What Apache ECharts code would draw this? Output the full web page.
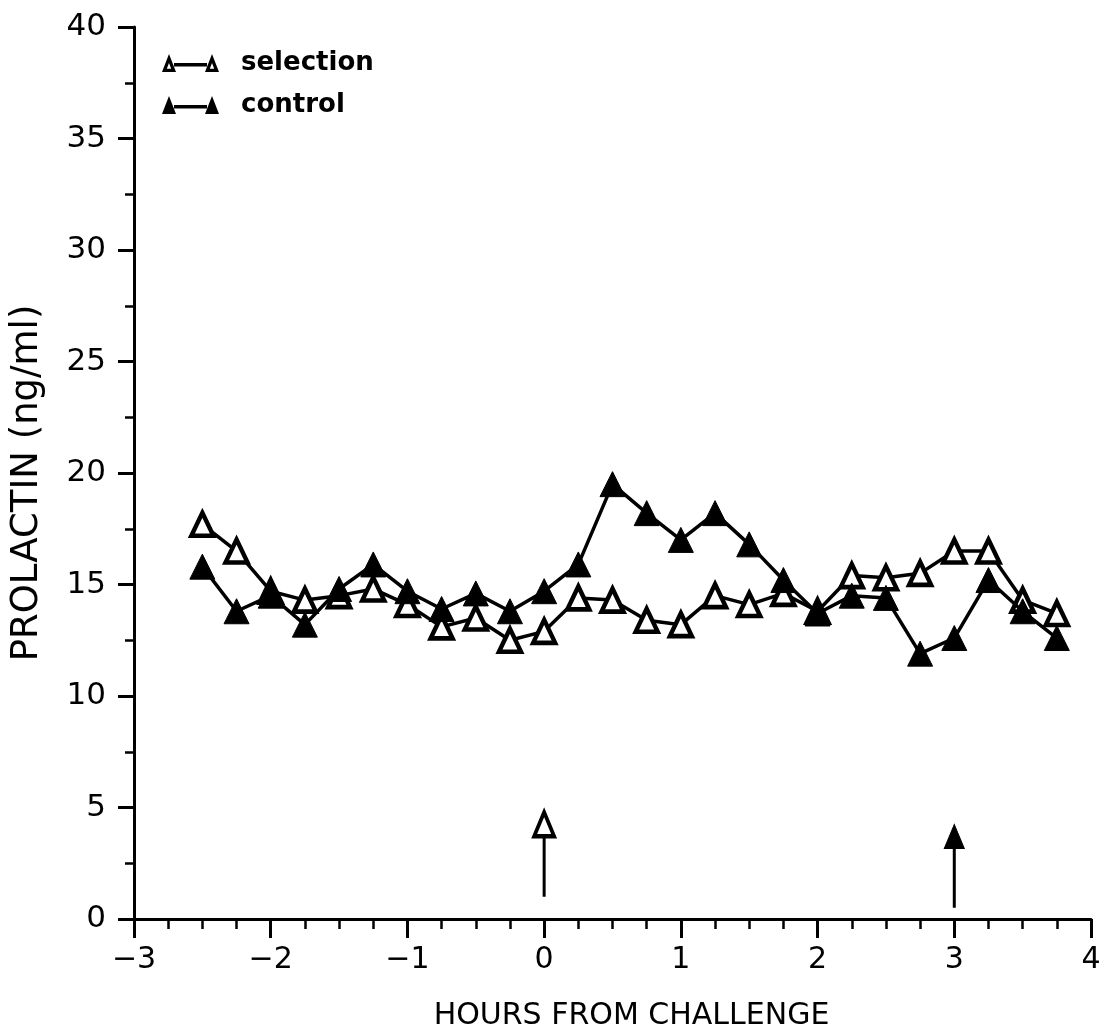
<!DOCTYPE html>
<html>
<head>
<meta charset="utf-8">
<script src="https://cdn.jsdelivr.net/npm/echarts@6/dist/echarts.min.js"></script>
<style>
  html, body { margin: 0; padding: 0; background: #ffffff; }
  #chart { width: 1112px; height: 1035px; }
</style>
</head>
<body>
<div id="chart"></div>
<script>
// Sampling times, hours relative to the challenge
const hours = [-2.5, -2.25, -2.0, -1.75, -1.5, -1.25, -1.0, -0.75, -0.5, -0.25,
               0.0, 0.25, 0.5, 0.75, 1.0, 1.25, 1.5, 1.75, 2.0, 2.25,
               2.5, 2.75, 3.0, 3.25, 3.5, 3.75];

// Prolactin (ng/ml), selection group (open triangles)
const selection = [17.7, 16.5, 14.7, 14.3, 14.5, 14.8, 14.1, 13.1, 13.5, 12.5,
                   12.9, 14.4, 14.3, 13.4, 13.2, 14.5, 14.1, 14.6, 13.8, 15.4,
                   15.3, 15.5, 16.5, 16.5, 14.3, 13.7];

// Prolactin (ng/ml), control group (filled triangles)
const control = [15.8, 13.8, 14.5, 13.2, 14.8, 15.9, 14.7, 13.9, 14.6, 13.8,
                 14.7, 15.9, 19.5, 18.2, 17.0, 18.2, 16.8, 15.2, 13.7, 14.5,
                 14.4, 11.9, 12.6, 15.2, 13.8, 12.6];

// Challenge markers: [hour, arrow foot, arrow head]
const selectionChallenge = [0, 1.0, 4.25];
const controlChallenge = [3, 0.5, 3.7];

// Axis ticks
const xTicks = [-3, -2, -1, 0, 1, 2, 3, 4];
const yTicks = [0, 5, 10, 15, 20, 25, 30, 35, 40];

const seriesNames = ['selection', 'control'];
const xTitle = 'HOURS FROM CHALLENGE';
const yTitle = 'PROLACTIN (ng/ml)';

const INK = '#000000';
const FONT = '"DejaVu Sans", "Liberation Sans", sans-serif';

// Legend glyphs: two triangles joined by a bar (hollow / solid)
const hollowIcon = 'path://' +
  'M0 18 L7 0 L14 18 Z M4.8 14.8 L9.2 14.8 L7 9 Z ' +
  'M12 9 L45 9 L45 12.5 L12 12.5 Z ' +
  'M43 18 L50 0 L57 18 Z M47.8 14.8 L52.2 14.8 L50 9 Z';
const solidIcon = 'path://' +
  'M0 18 L7 0 L14 18 Z ' +
  'M12 9 L45 9 L45 12.5 L12 12.5 Z ' +
  'M43 18 L50 0 L57 18 Z';

function pairs(xs, ys) { return xs.map((x, i) => [x, ys[i]]); }

function arrow(spec, hollow) {
  return {
    type: 'line',
    silent: true,
    z: 3,
    data: [
      { value: [spec[0], spec[1]], symbol: 'none' },
      { value: [spec[0], spec[2]] }
    ],
    symbol: 'triangle',
    symbolSize: [20, 24],
    lineStyle: { color: INK, width: 3 },
    itemStyle: hollow
      ? { color: '#ffffff', borderColor: INK, borderWidth: 4 }
      : { color: INK, borderColor: INK, borderWidth: 1 },
    emphasis: { disabled: true }
  };
}

const chart = echarts.init(document.getElementById('chart'), null, { renderer: 'canvas' });

chart.setOption({
  animation: false,
  backgroundColor: '#ffffff',
  grid: {
    left: 134, right: 21, top: 27, bottom: 116,
    containLabel: false,
    outerBoundsMode: 'none'
  },
  legend: {
    orient: 'vertical',
    left: 157,
    top: 43,
    itemWidth: 57,
    itemHeight: 18,
    itemGap: 12,
    selectedMode: false,
    textStyle: {
      color: INK,
      fontFamily: FONT,
      fontWeight: 'bold',
      fontSize: 26,
      lineHeight: 30,
      padding: [0, 0, 0, 17]
    },
    data: [
      { name: seriesNames[0], icon: hollowIcon, itemStyle: { color: INK, borderWidth: 0 } },
      { name: seriesNames[1], icon: solidIcon, itemStyle: { color: INK, borderWidth: 0 } }
    ]
  },
  xAxis: {
    type: 'value',
    min: xTicks[0],
    max: xTicks[xTicks.length - 1],
    interval: 1,
    name: xTitle,
    nameLocation: 'middle',
    nameGap: 82,
    nameTextStyle: {
      color: INK, fontFamily: FONT, fontSize: 30,
      padding: [0, 0, 0, 38]
    },
    axisLine: { onZero: false, lineStyle: { color: INK, width: 3 } },
    axisTick: { inside: false, length: 19, lineStyle: { color: INK, width: 3 } },
    minorTick: { show: true, splitNumber: 4, length: 10, lineStyle: { color: INK, width: 2.5 } },
    splitLine: { show: false },
    axisLabel: {
      color: INK, fontFamily: FONT, fontSize: 30, margin: 26,
      showMinLabel: true, showMaxLabel: true, hideOverlap: false,
      formatter: v => (xTicks.includes(v) ? String(v).replace('-', '\u2212') : '')
    }
  },
  yAxis: {
    type: 'value',
    min: yTicks[0],
    max: yTicks[yTicks.length - 1],
    interval: 5,
    name: yTitle,
    nameLocation: 'middle',
    nameGap: 88,
    nameRotate: 90,
    nameTextStyle: {
      color: INK, fontFamily: FONT, fontSize: 37,
      padding: [0, 20, 0, 0]
    },
    axisLine: { onZero: false, lineStyle: { color: INK, width: 3 } },
    axisTick: { inside: false, length: 16, lineStyle: { color: INK, width: 3 } },
    minorTick: { show: true, splitNumber: 2, length: 9, lineStyle: { color: INK, width: 2.5 } },
    splitLine: { show: false },
    axisLabel: {
      color: INK, fontFamily: FONT, fontSize: 31, margin: 28,
      showMinLabel: true, showMaxLabel: true, hideOverlap: false,
      formatter: v => (yTicks.includes(v) ? String(v) : '')
    }
  },
  series: [
    {
      name: seriesNames[0],
      type: 'line',
      z: 2,
      data: pairs(hours, selection),
      symbol: 'triangle',
      symbolSize: [22, 23],
      showAllSymbol: true,
      lineStyle: { color: INK, width: 3.5 },
      itemStyle: { color: '#ffffff', borderColor: INK, borderWidth: 4.5 },
      emphasis: { disabled: true }
    },
    {
      name: seriesNames[1],
      type: 'line',
      z: 3,
      data: pairs(hours, control),
      symbol: 'triangle',
      symbolSize: [25, 25],
      showAllSymbol: true,
      lineStyle: { color: INK, width: 3.5 },
      itemStyle: { color: INK, borderColor: INK, borderWidth: 1 },
      emphasis: { disabled: true }
    },
    arrow(selectionChallenge, true),
    arrow(controlChallenge, false)
  ]
});
</script>
</body>
</html>
